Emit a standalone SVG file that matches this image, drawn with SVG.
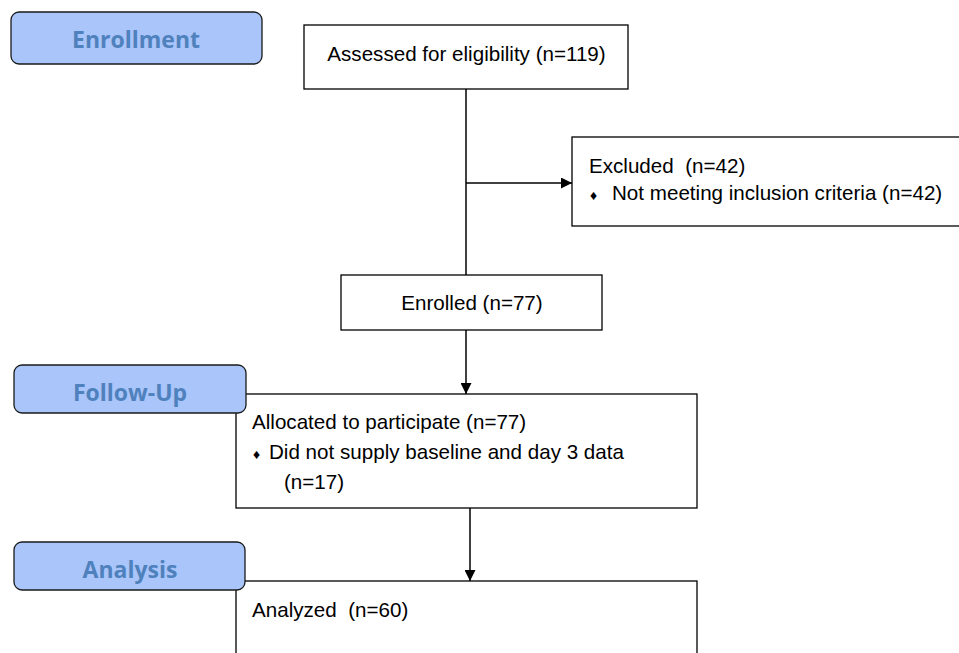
<svg xmlns="http://www.w3.org/2000/svg" width="959" height="653" viewBox="0 0 959 653">
<style>
.box{fill:#fff;stroke:#000;stroke-width:1.3}
.lbl{fill:#a9c5fa;stroke:#1a1a1a;stroke-width:1.3}
.lt{font-family:"Open Sans",sans-serif;font-weight:bold;font-size:23px;fill:#4f81bd;text-anchor:middle}
.t{font-family:"Liberation Sans",Arial,sans-serif;font-size:20.6px;fill:#000;white-space:pre}
.b{font-size:14px}
.c{stroke:#000;stroke-width:1.5;fill:none}
</style>
<defs>
<marker id="ah" viewBox="0 0 10 10" refX="10" refY="5" markerWidth="11" markerHeight="11" markerUnits="userSpaceOnUse" orient="auto">
<path d="M0,0 L10,5 L0,10 z" fill="#000"/>
</marker>
</defs>
<rect width="959" height="653" fill="#fff"/>
<g id="connectors">
<line class="c" x1="466" y1="89" x2="466" y2="275"/>
<line class="c" x1="466" y1="183" x2="572" y2="183" marker-end="url(#ah)"/>
<line class="c" x1="466" y1="330" x2="466" y2="394" marker-end="url(#ah)"/>
<line class="c" x1="470" y1="508" x2="470" y2="581" marker-end="url(#ah)"/>
</g>
<g id="assessed">
<rect class="box" x="304" y="25" width="324" height="64"/>
<text class="t" x="466.5" y="61" text-anchor="middle">Assessed for eligibility (n=119)</text>
</g>
<g id="excluded">
<rect class="box" x="572" y="137" width="400" height="89"/>
<text class="t" x="589" y="173">Excluded  (n=42)</text>
<text class="t" x="590" y="200"><tspan class="b">♦</tspan><tspan x="612">Not meeting inclusion criteria (n=42)</tspan></text>
</g>
<g id="enrolled">
<rect class="box" x="341" y="275" width="261" height="55"/>
<text class="t" x="472" y="310" text-anchor="middle">Enrolled (n=77)</text>
</g>
<g id="allocated">
<rect class="box" x="236" y="394" width="461" height="114"/>
<text class="t" x="252" y="429">Allocated to participate (n=77)</text>
<text class="t" x="253" y="459"><tspan class="b">♦</tspan><tspan x="269">Did not supply baseline and day 3 data</tspan></text>
<text class="t" x="284" y="489">(n=17)</text>
</g>
<g id="analyzed">
<rect class="box" x="236" y="581" width="461" height="90"/>
<text class="t" x="252" y="617">Analyzed  (n=60)</text>
</g>
<g id="enrollment">
<rect class="lbl" x="11" y="12" width="251" height="52" rx="8"/>
<text class="lt" x="136" y="48">Enrollment</text>
</g>
<g id="followup">
<rect class="lbl" x="14" y="365" width="232" height="48" rx="8"/>
<text class="lt" x="130" y="401">Follow-Up</text>
</g>
<g id="analysis">
<rect class="lbl" x="14" y="542" width="231" height="48" rx="8"/>
<text class="lt" x="130" y="578">Analysis</text>
</g>
</svg>
